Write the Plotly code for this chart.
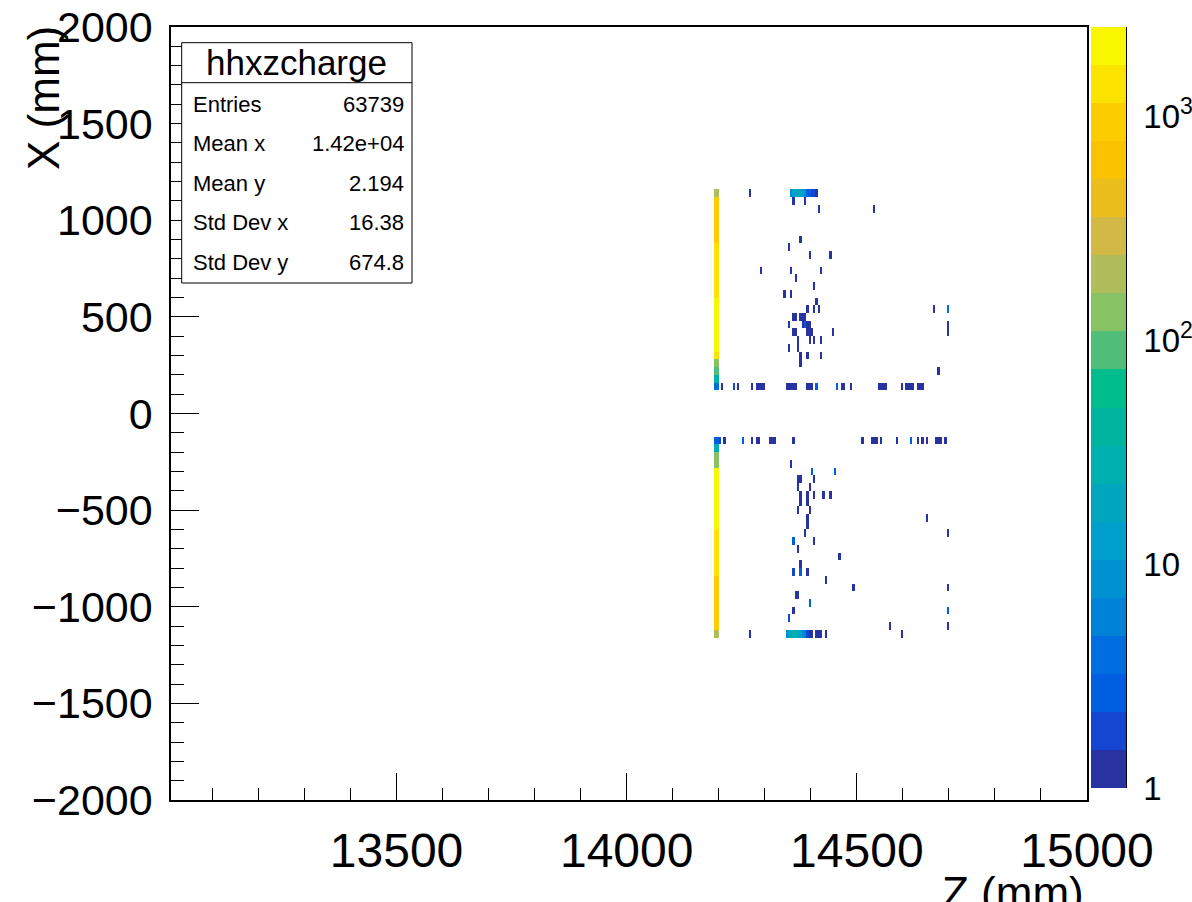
import numpy as np
import plotly.graph_objects as go

# ---------------- histogram definition (mm) ----------------
Z_MIN, Z_MAX, Z_BIN = 13010, 15000, 5
X_MIN, X_MAX, X_BIN = -2000, 2000, 40

z_tick_vals = [13500, 14000, 14500, 15000]
z_tick_text = ["13500", "14000", "14500", "15000"]
x_tick_vals = [-2000, -1500, -1000, -500, 0, 500, 1000, 1500, 2000]
x_tick_text = ["\u22122000", "\u22121500", "\u22121000", "\u2212500", "0",
               "500", "1000", "1500", "2000"]
c_tick_vals = [1, 10, 100, 1000]
c_tick_text = ["1", "10", "10<sup>2</sup>", "10<sup>3</sup>"]

# ---------------- data: front plane column (two Z bins at ~14190-14200 mm) ----------------
front_z = [14192.5, 14197.5]
front_x = [1140, 1100, 1060, 1020, 980, 940, 900, 860, 820, 780, 740, 700, 660,
           620, 580, 540, 500, 460, 420, 380, 340, 300, 260, 220, 180, 140,
           -140, -180, -220, -260, -300, -340, -380, -420, -460, -500, -540,
           -580, -620, -660, -700, -740, -780, -820, -860, -900, -940, -980,
           -1020, -1060, -1100, -1140]
front_n = [197, 930, 955, 948, 962, 940, 975, 1390, 1410, 1420, 1385, 1400, 1430,
           1415, 2040, 2080, 2110, 2060, 2090, 2030, 1990, 1420, 150, 100, 41, 4,
           3, 28, 110, 120, 2020, 2070, 2100, 2080, 2060, 2050, 2040, 2010,
           1450, 1430, 1420, 1400, 1390, 1380, 960, 950, 945, 940, 935, 930,
           925, 195]

# ---------------- data: top / bottom rows (X = +-1140 mm) ----------------
top_row_x = 1140
top_row_z = [14267, 14355, 14360, 14365, 14370, 14375, 14380, 14385, 14390,
             14395, 14400, 14405, 14410]
top_row_n = [1, 8, 13, 19, 19, 13, 13, 9, 3, 3, 2, 2, 1]

bottom_row_x = -1140
bottom_row_z = [14267, 14347, 14352, 14357, 14362, 14367, 14372, 14377, 14382,
                14387, 14392, 14397, 14402, 14412, 14417, 14422, 14432, 14596]
bottom_row_n = [1, 8, 13, 19, 28, 28, 19, 13, 9, 6, 2, 1, 1, 1, 1, 1, 1, 1]

# ---------------- data: inner rows (X = +-140 mm) ----------------
inner_up_x = 140
inner_up_z = [14207, 14230, 14234, 14243, 14272, 14281, 14286, 14292, 14297,
              14346, 14352, 14357, 14364, 14369, 14393, 14398, 14403, 14414,
              14458, 14468, 14472, 14487, 14547, 14552, 14557, 14562, 14596,
              14605, 14610, 14615, 14620, 14630, 14635, 14640]
inner_up_n = [1, 1, 1, 1, 1, 1, 1, 1, 1, 1, 1, 1, 1, 1, 1, 1, 1, 3,
              3, 1, 1, 1, 1, 1, 1, 1, 1, 1, 1, 1, 1, 1, 1, 1]

inner_dn_x = -140
inner_dn_z = [14203, 14211, 14254, 14272, 14283, 14288, 14310, 14315, 14320,
              14362, 14510, 14534, 14539, 14544, 14552, 14588, 14619, 14630,
              14642, 14653, 14671, 14676, 14681, 14690]
inner_dn_n = [2, 1, 3, 1, 1, 1, 1, 1, 1, 1, 1, 1, 1, 1, 1, 1, 3, 1,
              1, 1, 1, 1, 1, 1]

# ---------------- data: scattered hits (Z, X, count) ----------------
hits_z = [14362, 14385, 14415, 14535, 14379, 14350, 14397, 14440, 14290, 14357,
          14422, 14368, 14409, 14344, 14357, 14414, 14391, 14409, 14415, 14666,
          14697, 14362, 14367, 14377, 14382, 14387, 14350, 14382, 14387, 14392,
          14397, 14697, 14364, 14369, 14390, 14395, 14400, 14445, 14697, 14373,
          14397, 14409, 14422, 14350, 14373, 14379, 14391, 14422, 14379, 14679,
          14357, 14404, 14451, 14373, 14378, 14409, 14373, 14397, 14379, 14391,
          14409, 14427, 14440, 14379, 14391, 14373, 14397, 14391, 14653, 14391,
          14386, 14697, 14362, 14409, 14373, 14463, 14379, 14362, 14379, 14391,
          14433, 14494, 14697, 14366, 14371, 14397, 14362, 14697, 14350, 14570,
          14697]
hits_x = [1100, 1100, 1060, 1060, 900, 860, 820, 820, 740, 740,
          740, 700, 660, 620, 620, 580, 540, 540, 540, 540,
          540, 500, 500, 500, 500, 500, 460, 460, 460, 460,
          460, 460, 420, 420, 420, 420, 420, 420, 420, 380,
          380, 380, 380, 340, 340, 300, 300, 300, 260, 220,
          -260, -300, -300, -340, -340, -340, -380, -380, -420, -420,
          -420, -420, -420, -460, -460, -500, -500, -540, -540, -580,
          -620, -620, -660, -660, -700, -740, -780, -820, -820, -820,
          -860, -900, -900, -940, -940, -980, -1020, -1020, -1060, -1100,
          -1100]
hits_n = [1, 1, 1, 1, 1, 1, 1, 1, 1, 1,
          1, 1, 1, 1, 1, 1, 1, 1, 1, 1,
          4, 1, 1, 1, 1, 1, 1, 1, 3, 1,
          1, 1, 1, 1, 1, 1, 1, 1, 1, 1,
          1, 1, 1, 1, 1, 1, 1, 1, 1, 1,
          1, 3, 3, 1, 1, 1, 1, 1, 1, 1,
          1, 1, 1, 1, 1, 1, 1, 1, 1, 1,
          1, 1, 3, 1, 1, 1, 1, 2, 3, 1,
          1, 1, 1, 1, 1, 3, 1, 3, 2, 1,
          1]

# ---------------- colour palette (20 contour levels, ROOT "bird") ----------------
band_colors = ["rgb(40,50,160)", "rgb(20,70,210)", "rgb(0,95,225)", "rgb(0,110,225)",
               "rgb(0,130,215)", "rgb(0,145,210)", "rgb(0,160,205)", "rgb(0,165,190)",
               "rgb(0,175,175)", "rgb(0,180,160)", "rgb(0,190,140)", "rgb(80,190,120)",
               "rgb(135,195,100)", "rgb(175,190,90)", "rgb(210,185,70)", "rgb(235,190,30)",
               "rgb(250,195,0)", "rgb(254,205,0)", "rgb(253,228,0)", "rgb(250,248,0)"]
LOG_MAX = 3.4

# ---------------- fill the histogram ----------------
all_z, all_x, all_n = [], [], []
for fz in front_z:
    all_z += [fz] * len(front_x); all_x += front_x; all_n += front_n
all_z += top_row_z; all_x += [top_row_x] * len(top_row_z); all_n += top_row_n
all_z += bottom_row_z; all_x += [bottom_row_x] * len(bottom_row_z); all_n += bottom_row_n
all_z += inner_up_z; all_x += [inner_up_x] * len(inner_up_z); all_n += inner_up_n
all_z += inner_dn_z; all_x += [inner_dn_x] * len(inner_dn_z); all_n += inner_dn_n
all_z += hits_z; all_x += hits_x; all_n += hits_n

z_edges = np.arange(Z_MIN, Z_MAX + Z_BIN / 2, Z_BIN)
x_edges = np.arange(X_MIN, X_MAX + X_BIN / 2, X_BIN)
H, _, _ = np.histogram2d(all_z, all_x, bins=[z_edges, x_edges], weights=all_n)
H = H.T
logH = np.full(H.shape, np.nan)
logH[H > 0] = np.log10(H[H > 0])
z_centers = 0.5 * (z_edges[:-1] + z_edges[1:])
x_centers = 0.5 * (x_edges[:-1] + x_edges[1:])

colorscale = []
nb = len(band_colors)
for i, c in enumerate(band_colors):
    colorscale.append([i / nb, c])
    colorscale.append([(i + 1) / nb, c])

# ---------------- geometry (pixels -> paper) ----------------
W, Hpx = 1192, 902
ML, MR, MT, MB = 171, 66, 27, 102
PW = W - ML - MR
PH = Hpx - MT - MB
def px(xp):
    return (xp - ML) / PW
def py(yp):
    return (Hpx - MB - yp) / PH

FONT = "Liberation Sans, Arial, Helvetica, sans-serif"

fig = go.Figure()
fig.add_trace(go.Heatmap(
    x=z_centers, y=x_centers, z=logH,
    zmin=0, zmax=LOG_MAX, colorscale=colorscale,
    hoverongaps=False,
    colorbar=dict(thickness=35, thicknessmode="pixels",
                  len=(788 - 27) / PH, lenmode="fraction",
                  x=px(1091), xanchor="left", xpad=0,
                  y=1, yanchor="top", ypad=0,
                  outlinewidth=0, showticklabels=False, ticks=""),
))
# invisible trace to hold the colour-axis scale
fig.add_trace(go.Scatter(x=[0], y=[1], xaxis="x2", yaxis="y2", mode="markers",
                         marker=dict(opacity=0), hoverinfo="skip", showlegend=False))

minor_c = [m * 10 ** k for k in range(4) for m in range(2, 10) if m * 10 ** k < 10 ** LOG_MAX]

fig.update_layout(
    width=W, height=Hpx,
    margin=dict(l=ML, r=MR, t=MT, b=MB, autoexpand=False),
    paper_bgcolor="white", plot_bgcolor="white",
    font=dict(family=FONT, color="black"),
    showlegend=False,
    xaxis=dict(domain=[0, px(1087)], range=[Z_MIN, Z_MAX], automargin=False,
               tickmode="array", tickvals=z_tick_vals, ticktext=z_tick_text,
               ticks="inside", ticklen=27, tickwidth=1, tickcolor="black",
               minor=dict(tickmode="linear", tick0=13000, dtick=100, ticks="inside",
                          ticklen=12, tickwidth=1, tickcolor="black"),
               showline=True, linewidth=1.5, linecolor="black", mirror=True,
               showgrid=False, zeroline=False,
               tickfont=dict(size=48, family=FONT), ticklabelstandoff=8),
    yaxis=dict(domain=[0, 1], range=[X_MIN, X_MAX], automargin=False,
               tickmode="array", tickvals=x_tick_vals, ticktext=x_tick_text,
               ticks="inside", ticklen=28, tickwidth=1, tickcolor="black",
               minor=dict(tickmode="linear", tick0=0, dtick=100, ticks="inside",
                          ticklen=13, tickwidth=1, tickcolor="black"),
               showline=True, linewidth=1.5, linecolor="black", mirror=True,
               showgrid=False, zeroline=False,
               tickfont=dict(size=43, family=FONT), ticklabelstandoff=8),
    xaxis2=dict(domain=[px(1091), 1], anchor="y2", visible=False, range=[0, 1],
                automargin=False),
    yaxis2=dict(domain=[py(788), 1], anchor="free", position=1.0, side="right",
                type="log", range=[0, LOG_MAX], automargin=False,
                tickmode="array", tickvals=c_tick_vals, ticktext=c_tick_text,
                ticks="inside", ticklen=30, tickwidth=1, tickcolor="black",
                minor=dict(tickmode="array", tickvals=minor_c, ticks="inside",
                           ticklen=15, tickwidth=1, tickcolor="black"),
                showline=True, linewidth=1.5, linecolor="black",
                showgrid=False, zeroline=False,
                tickfont=dict(size=33, family=FONT), ticklabelstandoff=10),
)

# ---------------- stats box ----------------
bx0, bx1, by0, by1, byt = px(181.7), px(412), py(283), py(42.7), py(82.7)
fig.add_shape(type="rect", xref="paper", yref="paper", x0=bx0, x1=bx1, y0=by0, y1=by1,
              line=dict(color="black", width=1), fillcolor="white", layer="above")
fig.add_shape(type="line", xref="paper", yref="paper", x0=bx0, x1=bx1, y0=byt, y1=byt,
              line=dict(color="black", width=1), layer="above")
fig.add_annotation(xref="paper", yref="paper", x=(bx0 + bx1) / 2, y=py(62.7),
                   text="hhxzcharge", showarrow=False, xanchor="center", yanchor="middle",
                   font=dict(size=35, family=FONT))
stats_labels = ["Entries", "Mean x", "Mean y", "Std Dev x", "Std Dev y"]
stats_values = ["63739", "1.42e+04", "2.194", "16.38", "674.8"]
stats_rows_px = [104, 143.5, 183, 222.5, 262]
for lab, val, yy in zip(stats_labels, stats_values, stats_rows_px):
    fig.add_annotation(xref="paper", yref="paper", x=px(191), y=py(yy), text=lab,
                       showarrow=False, xanchor="left", yanchor="middle",
                       font=dict(size=22, family=FONT))
    fig.add_annotation(xref="paper", yref="paper", x=px(406), y=py(yy), text=val,
                       showarrow=False, xanchor="right", yanchor="middle",
                       font=dict(size=22, family=FONT))

# ---------------- axis titles ----------------
fig.add_annotation(xref="paper", yref="paper", x=px(43), y=py(98), text="X (mm)",
                   textangle=-90, showarrow=False, xanchor="center", yanchor="middle",
                   font=dict(size=44, family=FONT))
fig.add_annotation(xref="paper", yref="paper", x=px(1086), y=py(866), text="Z (mm)",
                   showarrow=False, xanchor="right", yanchor="top",
                   font=dict(size=44, family=FONT))

fig.write_html("out.html")
